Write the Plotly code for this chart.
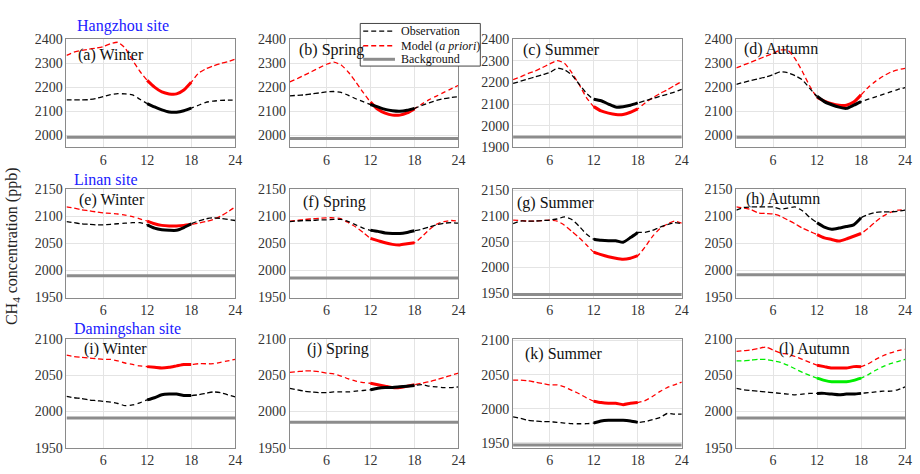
import plotly.graph_objects as go

W, H = 920, 474

hours = list(range(1, 25))
solid_hours = list(range(12, 19))

panel_labels = ["(a) Winter", "(b) Spring", "(c) Summer", "(d) Autumn",
                "(e) Winter", "(f) Spring", "(g) Summer", "(h) Autumn",
                "(i) Winter", "(j) Spring", "(k) Summer", "(l) Autumn"]
site_titles = ["Hangzhou site", "Linan site", "Damingshan site"]
x_ticks = [6, 12, 18, 24]

# Observations (ppb), hours 1..24
a_obs = [2147, 2147, 2147, 2148, 2153, 2161, 2169, 2173, 2172, 2168, 2150, 2132, 2118, 2106, 2097, 2096, 2102, 2113, 2125, 2137, 2142, 2145, 2146, 2146]
b_obs = [2164, 2166, 2168, 2172, 2176, 2180, 2182, 2178, 2166, 2152, 2140, 2128, 2118, 2108, 2102, 2100, 2104, 2112, 2124, 2135, 2145, 2152, 2157, 2160]
c_obs = [2195, 2205, 2215, 2225, 2235, 2245, 2265, 2258, 2234, 2192, 2150, 2122, 2115, 2100, 2086, 2088, 2094, 2105, 2115, 2125, 2135, 2145, 2155, 2168]
d_obs = [2212, 2220, 2228, 2235, 2242, 2252, 2264, 2260, 2248, 2230, 2195, 2162, 2140, 2127, 2117, 2112, 2125, 2140, 2150, 2160, 2170, 2180, 2190, 2198]
e_obs = [2090, 2088, 2086, 2085, 2084, 2084, 2085, 2086, 2087, 2088, 2088, 2084, 2078, 2075, 2074, 2074, 2079, 2086, 2091, 2095, 2097, 2096, 2094, 2092]
f_obs = [2090, 2091, 2092, 2092, 2093, 2093, 2094, 2094, 2090, 2084, 2078, 2074, 2072, 2069, 2068, 2068, 2070, 2073, 2076, 2080, 2084, 2087, 2088, 2087]
g_obs = [2085, 2090, 2090, 2090, 2091, 2092, 2094, 2098, 2093, 2080, 2065, 2055, 2053, 2052, 2052, 2049, 2058, 2068, 2068, 2072, 2078, 2083, 2087, 2085]
h_obs = [2111, 2116, 2117, 2117, 2117, 2117, 2113, 2115, 2117, 2110, 2098, 2088, 2080, 2076, 2078, 2081, 2084, 2097, 2103, 2107, 2108, 2108, 2109, 2111]
i_obs = [2021, 2019, 2018, 2016, 2015, 2014, 2013, 2011, 2008, 2009, 2012, 2016, 2019, 2023, 2024, 2024, 2022, 2022, 2023, 2025, 2027, 2026, 2023, 2020]
j_obs = [2032, 2030, 2028, 2027, 2026, 2026, 2027, 2027, 2027, 2028, 2029, 2030, 2032, 2033, 2033, 2034, 2035, 2036, 2037, 2035, 2034, 2033, 2033, 2034]
k_obs = [1988, 1986, 1983, 1982, 1981, 1981, 1980, 1979, 1978, 1978, 1978, 1979, 1982, 1983, 1983, 1983, 1982, 1980, 1981, 1984, 1987, 1993, 1992, 1992]
l_obs = [2032, 2030, 2029, 2028, 2027, 2026, 2025, 2024, 2023, 2024, 2025, 2025, 2025, 2024, 2023, 2024, 2024, 2025, 2026, 2027, 2028, 2028, 2030, 2034]

# Model (a priori), hours 1..24
a_mod = [2332, 2345, 2352, 2357, 2362, 2368, 2380, 2386, 2362, 2312, 2266, 2228, 2200, 2180, 2172, 2172, 2188, 2220, 2258, 2276, 2288, 2298, 2306, 2316]
b_mod = [2222, 2235, 2250, 2265, 2280, 2295, 2304, 2292, 2262, 2222, 2178, 2138, 2108, 2092, 2084, 2084, 2093, 2110, 2130, 2148, 2163, 2178, 2193, 2208]
c_mod = [2212, 2225, 2240, 2252, 2268, 2285, 2300, 2288, 2245, 2190, 2130, 2088, 2068, 2058, 2052, 2052, 2062, 2078, 2105, 2128, 2148, 2165, 2185, 2204]
d_mod = [2280, 2292, 2304, 2316, 2328, 2340, 2354, 2353, 2318, 2265, 2205, 2158, 2142, 2131, 2125, 2125, 2138, 2168, 2200, 2225, 2245, 2262, 2272, 2278]
e_mod = [2117, 2115, 2112, 2110, 2108, 2106, 2105, 2104, 2102, 2099, 2095, 2091, 2086, 2083, 2082, 2082, 2083, 2085, 2087, 2090, 2094, 2100, 2108, 2117]
f_mod = [2091, 2092, 2094, 2095, 2096, 2097, 2097, 2095, 2088, 2080, 2070, 2059, 2055, 2051, 2048, 2047, 2049, 2051, 2062, 2075, 2085, 2090, 2092, 2091]
g_mod = [2092, 2091, 2090, 2090, 2091, 2092, 2090, 2082, 2070, 2058, 2044, 2030, 2025, 2021, 2018, 2016, 2018, 2023, 2040, 2060, 2075, 2084, 2090, 2086]
h_mod = [2117, 2115, 2112, 2106, 2105, 2104, 2100, 2093, 2086, 2078, 2072, 2066, 2060, 2057, 2054, 2058, 2063, 2068, 2078, 2090, 2100, 2107, 2111, 2112]
i_mod = [2078, 2076, 2075, 2074, 2073, 2072, 2072, 2070, 2067, 2065, 2063, 2062, 2061, 2060, 2061, 2063, 2065, 2065, 2066, 2066, 2066, 2068, 2070, 2072]
j_mod = [2054, 2055, 2056, 2056, 2055, 2053, 2052, 2049, 2045, 2042, 2040, 2039, 2037, 2035, 2033, 2033, 2035, 2037, 2039, 2041, 2044, 2047, 2050, 2053]
k_mod = [2042, 2042, 2041, 2039, 2037, 2035, 2035, 2032, 2027, 2022, 2016, 2011, 2009, 2008, 2008, 2006, 2008, 2009, 2012, 2018, 2025, 2031, 2035, 2039]
l_mod = [2083, 2084, 2085, 2087, 2089, 2085, 2081, 2079, 2076, 2072, 2068, 2064, 2062, 2060, 2060, 2060, 2062, 2062, 2066, 2072, 2077, 2081, 2084, 2086]

# Extra (green) series shown only in panel (l)
l_green = [2070, 2070, 2071, 2072, 2072, 2070, 2068, 2064, 2059, 2054, 2050, 2046, 2043, 2041, 2041, 2041, 2043, 2046, 2051, 2057, 2062, 2066, 2069, 2072]

# Background concentration per panel (ppb)
background = [1992, 1987, 1948, 1992, 1990, 1986, 1948, 1992, 1991, 1985, 1947, 1991]

obs_all = [a_obs, b_obs, c_obs, d_obs, e_obs, f_obs, g_obs, h_obs, i_obs, j_obs, k_obs, l_obs]
mod_all = [a_mod, b_mod, c_mod, d_mod, e_mod, f_mod, g_mod, h_mod, i_mod, j_mod, k_mod, l_mod]

y_ranges = [[1950, 2400], [1950, 2400], [1900, 2400], [1950, 2400],
            [1950, 2150], [1950, 2150], [1942, 2152], [1950, 2150],
            [1950, 2100], [1950, 2100], [1943, 2102], [1950, 2100]]
y_dticks = [100, 100, 100, 100, 50, 50, 50, 50, 50, 50, 50, 50]

# ---- layout geometry (pixels) ----
col_left = [67, 292, 517, 742]
col_w = 170
row_top = [33, 188, 343]
row_h = 112

FONT = "Liberation Serif, Times New Roman, serif"
DASH = "5px,3px"


def px_x(p):
    return p / W


def px_y(p):
    return 1 - p / H


fig = go.Figure()
layout_axes = {}

for i in range(12):
    r, c = divmod(i, 4)
    n = i + 1
    xa = "x" if n == 1 else f"x{n}"
    ya = "y" if n == 1 else f"y{n}"
    sel = [h in solid_hours for h in hours]
    obs = obs_all[i]
    mod = mod_all[i]

    # background
    fig.add_trace(go.Scatter(x=[hours[0], hours[-1]], y=[background[i], background[i]],
                             mode="lines", line=dict(color="#8c8c8c", width=3),
                             xaxis=xa, yaxis=ya, showlegend=False, hoverinfo="skip"))
    series = [(mod, "#ff0000"), (obs, "#000000")]
    if i == 11:
        series = [(mod, "#ff0000"), (l_green, "#00ee00"), (obs, "#000000")]
    for vals, colr in series:
        fig.add_trace(go.Scatter(x=hours, y=vals, mode="lines",
                                 line=dict(color=colr, width=1.3, dash=DASH, shape="spline", smoothing=0.6),
                                 xaxis=xa, yaxis=ya, showlegend=False))
        fig.add_trace(go.Scatter(x=[h for h, s in zip(hours, sel) if s],
                                 y=[v for v, s in zip(vals, sel) if s], mode="lines",
                                 line=dict(color=colr, width=3, shape="spline", smoothing=0.6),
                                 xaxis=xa, yaxis=ya, showlegend=False))

    x0 = col_left[c]
    y0 = row_top[r]
    lo, hi = y_ranges[i]
    dt = y_dticks[i]
    start = (int(lo) // dt + (1 if lo % dt else 0)) * dt
    yt = list(range(start, int(hi) + 1, dt))
    common = dict(showline=True, mirror=True, linecolor="#8a8a8a", linewidth=1,
                  showgrid=True, gridcolor="#e4e4e4", gridwidth=1, zeroline=False,
                  ticks="", tickfont=dict(family=FONT, size=14, color="#333333"))
    layout_axes["xaxis" if n == 1 else f"xaxis{n}"] = dict(
        domain=[px_x(x0), px_x(x0 + col_w)], anchor=ya, range=[1, 24],
        tickvals=x_ticks, **common)
    layout_axes["yaxis" if n == 1 else f"yaxis{n}"] = dict(
        domain=[px_y(y0 + row_h), px_y(y0)], anchor=xa, range=[lo, hi],
        tickvals=yt, **common)

annotations = []
label_off = [(10, 50), (7, 44), (8, 44), (6, 43),
             (11, 199), (11, 201), (2, 202), (8, 198),
             (16, 353), (15, 353), (10, 358), (41, 353)]
for i, lab in enumerate(panel_labels):
    r, c = divmod(i, 4)
    dx, yc = label_off[i]
    annotations.append(dict(text=lab, x=px_x(col_left[c] + dx), y=px_y(yc), xref="paper", yref="paper",
                            xanchor="left", yanchor="middle", showarrow=False,
                            font=dict(family=FONT, size=16, color="#111111")))

site_pos = [(76, 20), (73, 178), (73, 333)]
for t, (sx, sy) in zip(site_titles, site_pos):
    annotations.append(dict(text=t, x=px_x(sx), y=px_y(sy), xref="paper", yref="paper",
                            xanchor="left", yanchor="middle", showarrow=False,
                            font=dict(family=FONT, size=16, color="#2020ff")))

annotations.append(dict(text="CH<sub>4</sub> concentration (ppb)", x=px_x(12), y=px_y(247),
                        xref="paper", yref="paper", textangle=-90, showarrow=False,
                        xanchor="center", yanchor="middle",
                        font=dict(family=FONT, size=16, color="#222222")))

# ---- manual legend ----
legend_names = ["Observation", "Model (<i>a priori</i>)", "Background"]
legend_styles = [dict(color="#000000", width=1.3, dash=DASH),
                 dict(color="#ff0000", width=1.3, dash=DASH),
                 dict(color="#8c8c8c", width=3)]
shapes = [dict(type="rect", xref="paper", yref="paper",
               x0=px_x(363), x1=px_x(484), y0=px_y(61), y1=px_y(17),
               line=dict(color="#444444", width=1), fillcolor="white", layer="above")]
leg_y = [25, 40, 54]
for name, sty, ly in zip(legend_names, legend_styles, leg_y):
    shapes.append(dict(type="line", xref="paper", yref="paper",
                       x0=px_x(366), x1=px_x(398), y0=px_y(ly), y1=px_y(ly),
                       line=sty, layer="above"))
    annotations.append(dict(text=name, x=px_x(402), y=px_y(ly), xref="paper", yref="paper",
                            xanchor="left", yanchor="middle", showarrow=False,
                            font=dict(family=FONT, size=12, color="#111111")))

fig.update_layout(width=W, height=H, margin=dict(l=0, r=0, t=0, b=0),
                  plot_bgcolor="white", paper_bgcolor="white",
                  annotations=annotations, shapes=shapes, showlegend=False,
                  **layout_axes)

fig.write_html("out.html")
